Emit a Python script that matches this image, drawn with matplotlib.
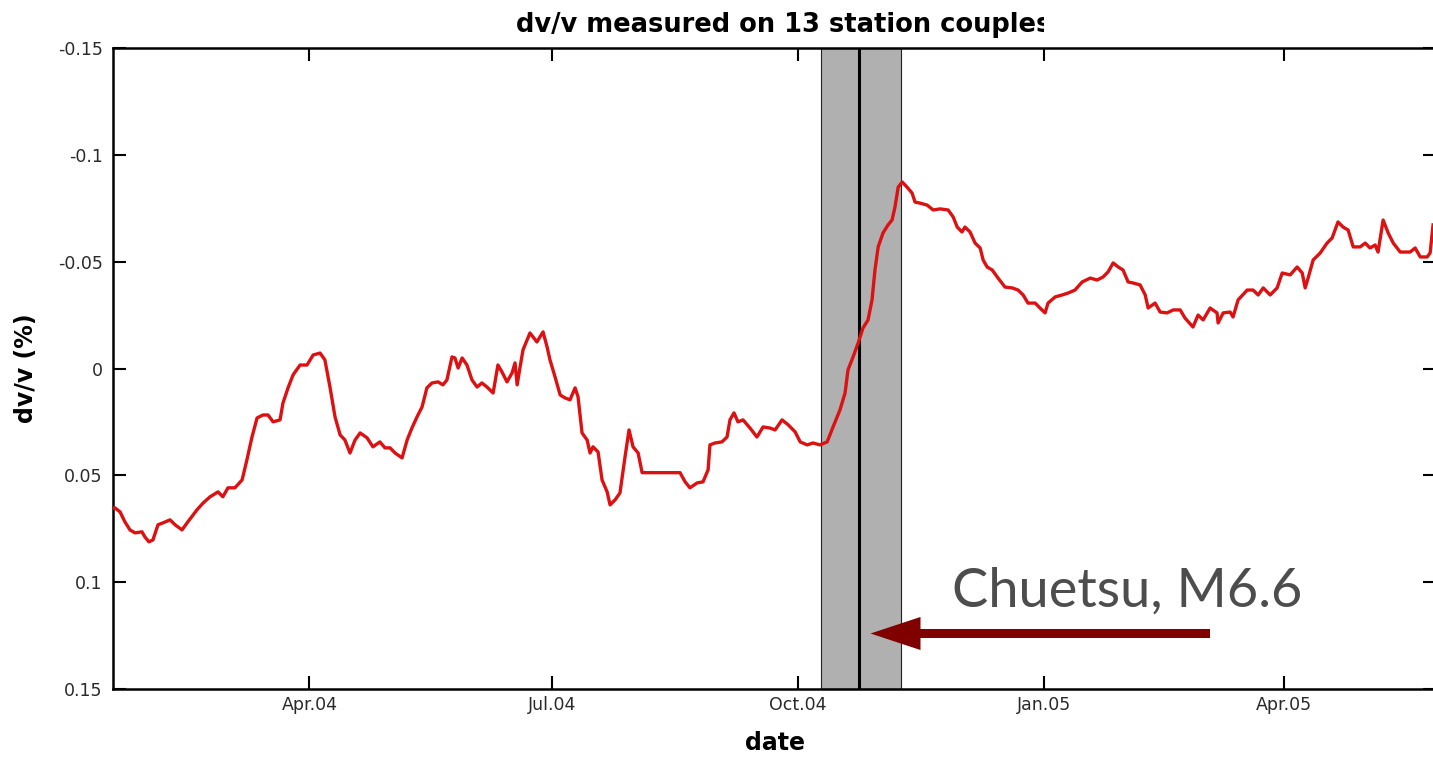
import numpy as np
import matplotlib
matplotlib.use("Agg")
import matplotlib.pyplot as plt
import matplotlib.dates as mdates
from matplotlib.transforms import Bbox, TransformedBbox

plt.rcParams["axes.unicode_minus"] = False

# dv/v averaged over the station couples; time is in days since 2004-01-01
days = [
    17.45, 18.2, 20.1, 21.9, 23.8, 25.7, 28.3, 29.4, 30.9, 32.4,
    34.3, 36.2, 38.8, 40.7, 43.3, 45.5, 48.9, 51.2, 53.8, 56.8,
    58.6, 60.5, 63.1, 65.8, 67.6, 69.5, 71.4, 73.6, 75.5, 77.4,
    80.0, 81.1, 83.0, 84.9, 87.5, 90.1, 92.4, 95.0, 96.8, 98.7,
    100.6, 102.5, 104.3, 106.2, 108.1, 110.0, 112.6, 114.8, 117.4, 119.3,
    121.2,
    123.1, 125.7, 127.6, 129.4, 131.3, 133.2, 135.0, 136.9, 139.2, 141.0,
    142.5, 144.4, 145.5, 146.7, 148.2, 150.0, 151.9, 153.8, 155.6, 157.5,
    159.8, 161.6, 163.1, 165.0, 166.9, 168.0, 168.8, 169.9, 171.0, 173.6,
    176.2, 178.5, 180.0, 181.1, 183.0, 184.9, 186.7, 188.6, 190.5, 191.6,
    193.1, 195.0, 196.1, 197.2, 199.1, 200.6, 202.5, 203.6, 205.5, 207.3,
    209.2, 210.7, 212.2, 214.1, 215.6, 229.8,
    231.7, 233.5, 236.2, 238.4, 240.3, 241.0, 242.9, 245.5, 247.4, 248.5,
    250.0, 251.5, 253.4, 256.0, 258.6, 260.9, 263.5, 265.4, 268.0, 270.3,
    272.9, 274.8, 277.4, 279.6, 282.2, 284.9, 287.1, 289.7, 291.6, 292.7,
    294.6, 296.5, 298.3, 300.2, 301.7, 302.8, 304.0, 305.8, 307.7, 309.2,
    310.3, 311.5, 313.0, 314.8, 316.7, 317.8, 319.7, 322.3, 324.6, 327.2,
    330.2, 332.1, 333.6, 335.4, 336.5, 338.4, 340.3, 342.2, 343.3, 344.8,
    346.7, 348.9, 351.5, 354.2, 356.4, 358.3, 360.1, 362.8, 364.6, 366.5,
    367.6, 370.3, 372.9, 375.1, 377.7, 380.4, 383.4, 386.0, 388.2, 390.1,
    392.0, 393.9, 395.7, 397.6, 399.5, 402.1, 404.0, 405.1, 407.7, 409.6,
    412.2, 414.5, 417.1,
    418.9, 421.9, 423.8, 425.7, 428.3, 430.9, 431.3, 433.2, 435.8, 436.9,
    438.8, 442.2, 444.4, 446.3, 448.2, 450.8, 453.4, 455.3, 458.3, 460.9,
    462.8, 463.9, 465.0, 466.9, 469.5, 472.1, 474.0, 476.2, 478.1, 480.0,
    481.9, 484.5, 486.4, 488.2, 490.1, 491.2, 493.1, 495.0, 496.9, 499.5,
    503.2, 505.1, 507.0, 509.6, 510.7, 511.8,
]
dvv = [
    0.0654, 0.0652, 0.0671, 0.0717, 0.0755, 0.0769, 0.0764, 0.0788, 0.0811, 0.0802,
    0.0731, 0.0722, 0.0708, 0.0731, 0.0755, 0.0717, 0.0661, 0.0629, 0.0600, 0.0577,
    0.0600, 0.0558, 0.0558, 0.0521, 0.0427, 0.0320, 0.0231, 0.0217, 0.0217, 0.0249,
    0.0240, 0.0161, 0.0090, 0.0029, -0.0017, -0.0017, -0.0064, -0.0073, -0.0041, 0.0086,
    0.0226, 0.0310, 0.0334, 0.0395, 0.0334, 0.0301, 0.0324, 0.0366, 0.0343, 0.0371,
    0.0371,
    0.0395, 0.0418, 0.0334, 0.0278, 0.0226, 0.0179, 0.0090, 0.0067, 0.0062, 0.0076,
    0.0053, -0.0055, -0.0050, -0.0003, -0.0050, -0.0017, 0.0053, 0.0086, 0.0067, 0.0086,
    0.0114, -0.0017, 0.0015, 0.0062, 0.0020, -0.0027, 0.0076, -0.0008, -0.0088, -0.0167,
    -0.0125, -0.0172, -0.0102, -0.0041, 0.0039, 0.0123, 0.0137, 0.0146, 0.0090, 0.0132,
    0.0301, 0.0334, 0.0395, 0.0366, 0.0390, 0.0521, 0.0577, 0.0638, 0.0614, 0.0582,
    0.0413, 0.0287, 0.0366, 0.0395, 0.0487, 0.0487,
    0.0530, 0.0558, 0.0535, 0.0530, 0.0474, 0.0357, 0.0348, 0.0343, 0.0320, 0.0240,
    0.0207, 0.0249, 0.0240, 0.0278, 0.0320, 0.0273, 0.0278, 0.0287, 0.0240, 0.0263,
    0.0296, 0.0343, 0.0357, 0.0348, 0.0357, 0.0343, 0.0273, 0.0193, 0.0114, 0.0006,
    -0.0055, -0.0120, -0.0190, -0.0228, -0.0322, -0.0462, -0.0570, -0.0635, -0.0673, -0.0696,
    -0.0757, -0.0850, -0.0874, -0.0850, -0.0822, -0.0780, -0.0775, -0.0766, -0.0743, -0.0748,
    -0.0743, -0.0710, -0.0663, -0.0640, -0.0663, -0.0640, -0.0588, -0.0565, -0.0509, -0.0476,
    -0.0462, -0.0424, -0.0382, -0.0378, -0.0368, -0.0345, -0.0307, -0.0307, -0.0284, -0.0261,
    -0.0307, -0.0336, -0.0345, -0.0354, -0.0368, -0.0406, -0.0424, -0.0415, -0.0429, -0.0453,
    -0.0495, -0.0476, -0.0462, -0.0406, -0.0401, -0.0392, -0.0345, -0.0284, -0.0307, -0.0265,
    -0.0261, -0.0275, -0.0275,
    -0.0237, -0.0195, -0.0251, -0.0228, -0.0284, -0.0261, -0.0214, -0.0261, -0.0265, -0.0242,
    -0.0322, -0.0368, -0.0368, -0.0345, -0.0378, -0.0345, -0.0378, -0.0448, -0.0439, -0.0476,
    -0.0448, -0.0378, -0.0424, -0.0509, -0.0541, -0.0588, -0.0612, -0.0687, -0.0663, -0.0649,
    -0.0570, -0.0570, -0.0588, -0.0565, -0.0579, -0.0546, -0.0696, -0.0635, -0.0588, -0.0546,
    -0.0546, -0.0565, -0.0523, -0.0523, -0.0542, -0.0673,
]

# Chuetsu earthquake (2004-10-23) and the window excluded around it
quake_day = 296.75
window = (282.6, 312.6)
x_range = (17.45, 512.9)
y_ticks = [-0.15, -0.1, -0.05, 0, 0.05, 0.1, 0.15]
y_tick_labels = ["-0.15", "-0.1", "-0.05", "0", "0.05", "0.1", "0.15"]

t0 = mdates.date2num(np.datetime64("2004-01-01"))
t = t0 + np.array(days)

fig = plt.figure(figsize=(14.33, 7.57), dpi=100)
W, H = 1433, 757
ax = fig.add_axes([113 / W, 1 - 689 / H, 1323 / W, (689 - 48.3) / H])

ax.axvspan(t0 + window[0], t0 + window[1], facecolor="#b0b0b0",
           edgecolor="#222222", linewidth=0.8, zorder=1)
ax.axvline(t0 + quake_day, color="black", linewidth=2.2, zorder=2)
ax.plot(t, dvv, color="#dd1111", linewidth=2.4, zorder=3)

ax.set_xlim(t0 + x_range[0], t0 + x_range[1])
ax.set_ylim(0.15, -0.15)
ax.set_yticks(y_ticks)
ax.set_yticklabels(y_tick_labels)
ax.xaxis.set_major_locator(mdates.MonthLocator(bymonth=[1, 4, 7, 10]))
ax.xaxis.set_major_formatter(mdates.DateFormatter("%b.%y"))

ax.tick_params(direction="in", length=9.5, width=1.5, top=True, right=True,
               labelsize=12.5, labelcolor="#2a2a2a")
ax.tick_params(axis="y", pad=7.5)
ax.tick_params(axis="x", pad=5)
for sp in ax.spines.values():
    sp.set_linewidth(1.8)

ax.set_xlabel("date", fontsize=17, fontweight="bold")
ax.xaxis.set_label_coords(0.5, -0.066)
ax.set_ylabel("dv/v (%)", fontsize=17, fontweight="bold")
ax.yaxis.set_label_coords(-0.057, 0.5)

# the title runs past the right edge of its box and is cut there
title = fig.text(516 / W, 1 - 32 / H, "dv/v measured on 13 station couples",
                 fontsize=18.5, fontweight="bold", ha="left", va="baseline")
title.set_clip_box(TransformedBbox(Bbox.from_extents(0, 0, 1044 / W, 1), fig.transFigure))
title.set_clip_on(True)

fig.text(952 / W, 1 - 607 / H, "Chuetsu, M6.6", fontfamily="Lato", fontsize=39,
         color="#4d4d4d", ha="left", va="baseline")
ax.annotate("", xy=(870.5, H - 633.5), xytext=(1210, H - 633.5),
            xycoords="figure pixels", textcoords="figure pixels",
            arrowprops=dict(arrowstyle="simple,head_length=36,head_width=23.8,tail_width=6.5",
                            mutation_scale=1, color="#800000", linewidth=0,
                            shrinkA=0, shrinkB=0),
            annotation_clip=False, zorder=5)

fig.savefig("out.png", dpi=100)
